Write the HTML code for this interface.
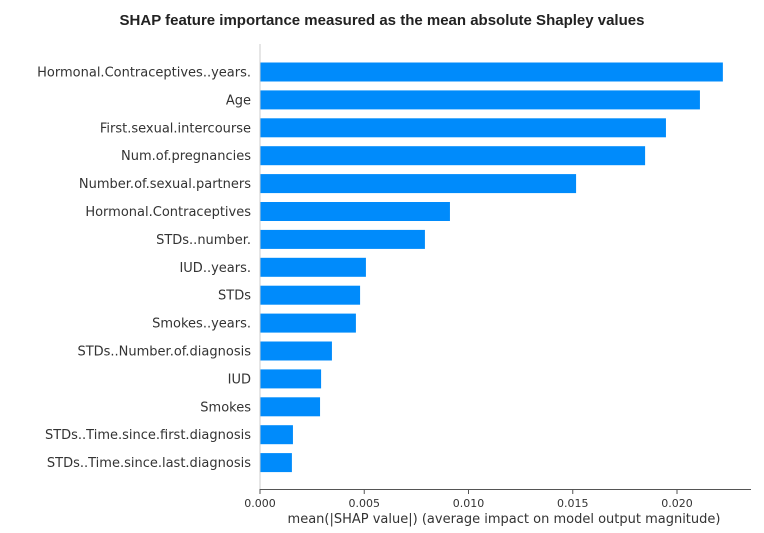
<!DOCTYPE html>
<html><head><meta charset="utf-8"><style>
body{margin:0;background:#fff;}
svg text{font-family:"DejaVu Sans","Liberation Sans",sans-serif;}
</style></head><body>
<svg width="764" height="528" xmlns="http://www.w3.org/2000/svg">
<text x="382" y="25" text-anchor="middle" font-size="15" font-weight="bold" fill="#222" style="font-family:'Liberation Sans',sans-serif">SHAP feature importance measured as the mean absolute Shapley values</text>
<g id="bars"></g>
<g id="ylabels"></g>
<line x1="260" y1="44" x2="260" y2="489" stroke="#ccc" stroke-width="1"/>
<line x1="260" y1="489.5" x2="751" y2="489.5" stroke="#555" stroke-width="1"/>
<g id="xticks"></g>
<text x="504" y="523" text-anchor="middle" font-size="13" fill="#333">mean(|SHAP value|) (average impact on model output magnitude)</text>
</svg>
<script>
const features=["Hormonal.Contraceptives..years.","Age","First.sexual.intercourse","Num.of.pregnancies","Number.of.sexual.partners","Hormonal.Contraceptives","STDs..number.","IUD..years.","STDs","Smokes..years.","STDs..Number.of.diagnosis","IUD","Smokes","STDs..Time.since.first.diagnosis","STDs..Time.since.last.diagnosis"];
const values=[0.0222,0.0211,0.01947,0.01847,0.01516,0.00911,0.00791,0.00508,0.0048,0.0046,0.00345,0.00293,0.00288,0.00158,0.00153];
const tickValues=[0,0.005,0.01,0.015,0.02];
const tickLabels=["0.000","0.005","0.010","0.015","0.020"];
const NS="http://www.w3.org/2000/svg";
const x=v=>260+v*20850;
const y=i=>72+i*27.9;
const bars=document.getElementById('bars'),yl=document.getElementById('ylabels'),xt=document.getElementById('xticks');
features.forEach((f,i)=>{
 const r=document.createElementNS(NS,'rect');
 r.setAttribute('x',x(0));r.setAttribute('y',y(i)-9.5);
 r.setAttribute('width',x(values[i])-x(0));r.setAttribute('height',19);
 r.setAttribute('fill','#008bfb');
 
 
 bars.appendChild(r);
 const t=document.createElementNS(NS,'text');
 t.setAttribute('x',251);t.setAttribute('y',y(i)+4.5);
 t.setAttribute('text-anchor','end');t.setAttribute('font-size','13');t.setAttribute('fill','#333');
 t.textContent=f;
 
 
 yl.appendChild(t);
});
tickValues.forEach((v,i)=>{
 const l=document.createElementNS(NS,'line');
 l.setAttribute('x1',x(v));l.setAttribute('x2',x(v));l.setAttribute('y1',489);l.setAttribute('y2',494);
 l.setAttribute('stroke','#555');
 
 
 xt.appendChild(l);
 const t=document.createElementNS(NS,'text');
 t.setAttribute('x',x(v));t.setAttribute('y',507);
 t.setAttribute('text-anchor','middle');t.setAttribute('font-size','11');t.setAttribute('fill','#333');
 t.textContent=tickLabels[i];
 
 
 xt.appendChild(t);
});
</script>
</body></html>
